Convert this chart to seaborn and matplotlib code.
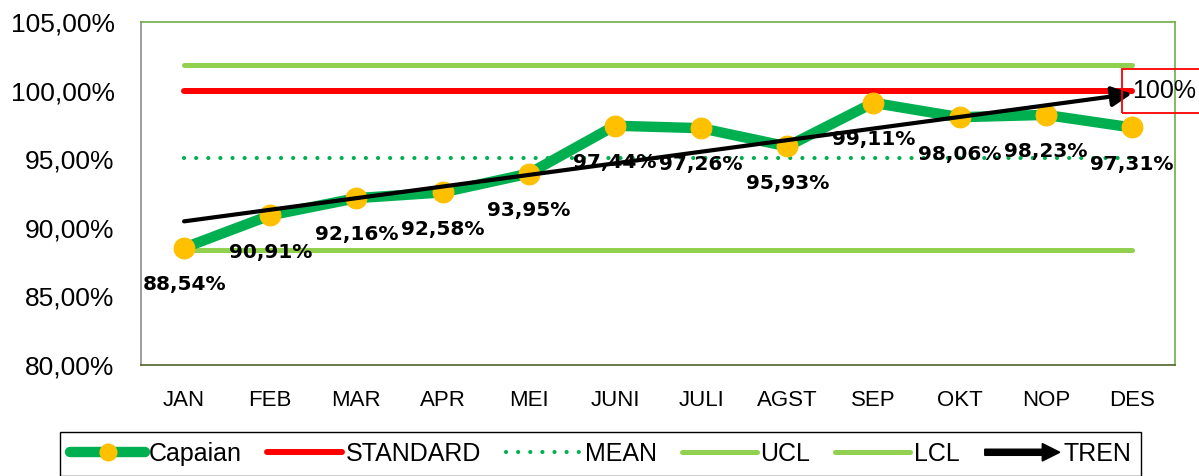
import numpy as np
import pandas as pd
import matplotlib.pyplot as plt
import matplotlib.patches as mpatches
from matplotlib.lines import Line2D
from matplotlib.legend_handler import HandlerPatch
import seaborn as sns

# data capaian per bulan (dalam persen)
bulan = ["JAN", "FEB", "MAR", "APR", "MEI", "JUNI", "JULI", "AGST", "SEP", "OKT", "NOP", "DES"]
capaian = [88.54, 90.91, 92.16, 92.58, 93.95, 97.44, 97.26, 95.93, 99.11, 98.06, 98.23, 97.31]
standard = 100.0
mean = 95.12
ucl = 101.9
lcl = 88.35
# titik awal dan akhir garis tren
tren_awal = 90.47
tren_akhir = 99.77
y_ticks = [80, 85, 90, 95, 100, 105]

df = pd.DataFrame({
    "pos": np.arange(len(bulan)),
    "capaian": capaian,
    "standard": [standard] * len(bulan),
    "mean": [mean] * len(bulan),
    "ucl": [ucl] * len(bulan),
    "lcl": [lcl] * len(bulan),
})

hijau = "#00B050"
hijau_muda = "#92D050"
kuning = "#FFC000"
titik = (0, (0.01, 2.9))

sns.set_style("white")
plt.rcParams["font.family"] = ["Liberation Sans", "DejaVu Sans"]
plt.rcParams["text.color"] = "black"
plt.rcParams["xtick.color"] = "black"
plt.rcParams["ytick.color"] = "black"

fig = plt.figure(figsize=(11.99, 4.76), dpi=100)
ax = fig.add_axes([0.1176, 0.2332, 0.8624, 0.7206])

sns.lineplot(data=df, x="pos", y="ucl", color=hijau_muda, lw=3.6, solid_capstyle="round", ax=ax, zorder=2)
sns.lineplot(data=df, x="pos", y="lcl", color=hijau_muda, lw=3.6, solid_capstyle="round", ax=ax, zorder=2)
sns.lineplot(data=df, x="pos", y="mean", color=hijau, lw=3, linestyle=titik, dash_capstyle="round", ax=ax, zorder=2)
sns.lineplot(data=df, x="pos", y="standard", color="red", lw=4.3, solid_capstyle="round", ax=ax, zorder=3)
sns.lineplot(data=df, x="pos", y="capaian", color=hijau, lw=7.5, marker="o", markersize=15,
             markerfacecolor=kuning, markeredgecolor=kuning, ax=ax, zorder=4)

# label nilai
for i, v in enumerate(capaian):
    ax.annotate(f"{v:.2f}%".replace(".", ","), (i, v), xytext=(0, -26.5), textcoords="offset points",
                ha="center", va="center", fontsize=14.5, fontweight="bold", family="DejaVu Sans",
                color="black", zorder=5)

# garis tren dengan panah
ax.annotate("", xy=(len(bulan) - 1, tren_akhir), xytext=(0, tren_awal),
            arrowprops=dict(arrowstyle="-|>,head_length=0.8,head_width=0.4", color="black", lw=3,
                            mutation_scale=15, shrinkA=0, shrinkB=0), zorder=6)

ax.text(len(bulan) - 1, standard, "100%", ha="left", va="center", fontsize=18, zorder=7,
        bbox=dict(boxstyle="square,pad=0.4", ec="red", fc="none", lw=1.3))

ax.set_xlim(-0.5, len(bulan) - 0.5)
ax.set_ylim(80, 105)
ax.set_xticks(np.arange(len(bulan)))
ax.set_xticklabels(bulan)
ax.set_yticks(y_ticks)
ax.set_yticklabels([f"{t:.2f}%".replace(".", ",") for t in y_ticks])
ax.set_xlabel("")
ax.set_ylabel("")
ax.tick_params(axis="x", length=0, pad=18, labelsize=16, labelcolor="black")
ax.tick_params(axis="y", length=0, pad=19, labelsize=19, labelcolor="black")
ax.grid(False)

ax.spines["left"].set_color("#8C8C8C")
ax.spines["bottom"].set_color("#4F6228")
ax.spines["top"].set_color("#70AD47")
ax.spines["right"].set_color("#70AD47")
for s in ax.spines.values():
    s.set_linewidth(1.2)


def buat_panah(legend, orig_handle, xdescent, ydescent, width, height, fontsize):
    return mpatches.FancyArrow(0, 0.5 * height, width, 0, width=0.35 * height, head_width=1.0 * height,
                               head_length=1.0 * height, length_includes_head=True, color="black")


handles = [
    Line2D([], [], color=hijau, lw=7.5, marker="o", markersize=12, markerfacecolor=kuning,
           markeredgecolor=kuning, solid_capstyle="round"),
    Line2D([], [], color="red", lw=4.3, solid_capstyle="round"),
    Line2D([], [], color=hijau, lw=3, linestyle=titik, dash_capstyle="round"),
    Line2D([], [], color=hijau_muda, lw=3.6, solid_capstyle="round"),
    Line2D([], [], color=hijau_muda, lw=3.6, solid_capstyle="round"),
    mpatches.FancyArrow(0, 0, 1, 0, color="black"),
]
labels = ["Capaian", "STANDARD", "MEAN", "UCL", "LCL", "TREN"]
leg = fig.legend(handles, labels, loc="upper center", bbox_to_anchor=(0.501, 0.0924), ncol=6,
                 frameon=True, fancybox=False, edgecolor="black", framealpha=1, fontsize=18,
                 handlelength=3.0, handletextpad=0.15, columnspacing=1.0, borderaxespad=0, numpoints=1,
                 labelcolor="black",
                 handler_map={mpatches.FancyArrow: HandlerPatch(patch_func=buat_panah)})
leg.get_frame().set_linewidth(1)

plt.savefig("out.png", dpi=100)
